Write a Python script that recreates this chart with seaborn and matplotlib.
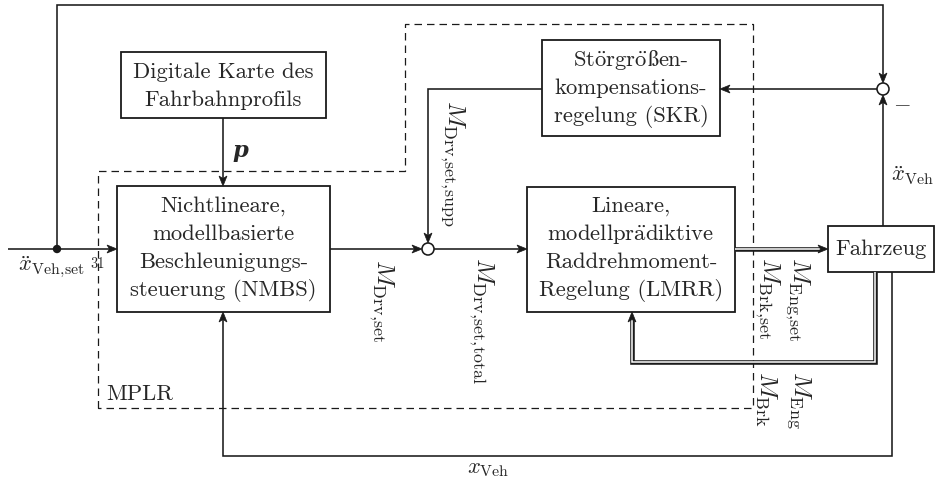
import matplotlib
matplotlib.use("Agg")
import matplotlib.pyplot as plt
from matplotlib.patches import Rectangle, Circle, Polygon
import seaborn as sns
import numpy as np

# ---------------- content ----------------
block_texts = [
    ["Digitale Karte des", "Fahrbahnprofils"],
    ["Nichtlineare,", "modellbasierte", "Beschleunigungs-", "steuerung (NMBS)"],
    [r"St$\ddot{\mathrm{o}}$rgr$\ddot{\mathrm{o}}$ßen-", "kompensations-", "regelung (SKR)"],
    ["Lineare,", r"modellpr$\ddot{\mathrm{a}}$diktive", "Raddrehmoment-", "Regelung (LMRR)"],
    ["Fahrzeug"],
]
torque_labels = [
    r"$M_{\mathrm{Drv,\!set}}$",
    r"$M_{\mathrm{Drv,\!set,\!supp}}$",
    r"$M_{\mathrm{Drv,\!set,\!total}}$",
    r"$M_{\mathrm{Eng,\!set}}$",
    r"$M_{\mathrm{Brk,\!set}}$",
    r"$M_{\mathrm{Eng}}$",
    r"$M_{\mathrm{Brk}}$",
]
signal_labels = [
    r"$\ddot{x}_{\mathrm{Veh,\!set}}$",
    r"$\ddot{x}_{\mathrm{Veh}}$",
    r"$x_{\mathrm{Veh}}$",
]
group_label = "MPLR"
misc_labels = ["31", "p", r"$-$"]

# ---------------- style ----------------
sns.set_theme(style="white")
plt.rcParams["font.family"] = ["cmr10", "STIXGeneral", "DejaVu Serif"]
plt.rcParams["mathtext.fontset"] = "cm"
plt.rcParams["axes.formatter.use_mathtext"] = True

W, H = 936, 486
fig = plt.figure(figsize=(W / 100, H / 100), dpi=100)
ax = fig.add_axes([0, 0, 1, 1])
ax.set_xlim(0, W)
ax.set_ylim(H, 0)
ax.axis("off")
renderer = fig.canvas.get_renderer()

LW = 1.15
BODY = 16.3
MSIZE = 18.5


def head(tip, direction, length=10, width=8):
    d = np.array(direction, float)
    d /= np.linalg.norm(d)
    n = np.array([-d[1], d[0]])
    tip = np.array(tip, float)
    base = tip - d * length
    pts = [tip, base + n * width / 2, tip - d * length * 0.75, base - n * width / 2]
    ax.add_patch(Polygon(pts, closed=True, fc="k", ec="k", lw=0.5, zorder=5))


def line(pts, arrow=True, double=False):
    pts = np.array(pts, float)
    if arrow:
        d = pts[-1] - pts[-2]
        d = d / np.linalg.norm(d)
        draw = pts.copy()
        draw[-1] = pts[-1] - d * 7
    else:
        draw = pts
    if double:
        ax.plot(draw[:, 0], draw[:, 1], color="k", lw=3.3, solid_joinstyle="miter",
                solid_capstyle="butt", zorder=3)
        ax.plot(draw[:, 0], draw[:, 1], color="white", lw=1.1, solid_joinstyle="miter",
                solid_capstyle="butt", zorder=4)
    else:
        ax.plot(draw[:, 0], draw[:, 1], color="k", lw=LW, solid_joinstyle="miter",
                solid_capstyle="butt", zorder=3)
    if arrow:
        head(pts[-1], pts[-1] - pts[-2])


def text_line(cx, base, s):
    # split off "ß" (missing in cmr10) and set it in STIXGeneral
    if "ß" not in s:
        ax.text(cx, base, s, ha="center", va="baseline", fontsize=BODY, zorder=6)
        return
    parts = []
    for i, chunk in enumerate(s.split("ß")):
        if i > 0:
            parts.append(("ß", "STIXGeneral"))
        if chunk:
            parts.append((chunk, None))
    arts, widths = [], []
    for t, fam in parts:
        kw = dict(fontsize=BODY, ha="left", va="baseline", zorder=6)
        if fam:
            kw["family"] = fam
        a = ax.text(0, base, t, **kw)
        widths.append(a.get_window_extent(renderer).width)
        arts.append(a)
    x = cx - sum(widths) / 2
    for a, w in zip(arts, widths):
        a.set_x(x)
        x += w


def block(x0, y0, x1, y1, lines, baselines):
    ax.add_patch(Rectangle((x0, y0), x1 - x0, y1 - y0, fill=True, fc="white",
                           ec="k", lw=1.3, zorder=2))
    cx = (x0 + x1) / 2
    for t, b in zip(lines, baselines):
        text_line(cx, b, t)


# MPLR dashed region
mplr = np.array([(98, 408), (98, 171), (405, 171), (405, 24), (753, 24), (753, 408), (98, 408)])
ax.plot(mplr[:, 0], mplr[:, 1], color="k", lw=0.9, ls=(0, (6, 4)), zorder=1)
ax.text(106, 400, group_label, ha="left", va="baseline", fontsize=BODY)

# blocks
block(121, 52, 326, 118, block_texts[0], [78, 106])
block(117, 186, 330, 312, block_texts[1], [212, 240, 268, 296])
block(542, 40, 720, 136, block_texts[2], [66, 94, 122])
block(527, 187, 735, 312, block_texts[3], [212, 240, 268, 296])
block(828, 226, 934, 272, block_texts[4], [255])

# summing points
for c in [(428, 249), (883, 89)]:
    ax.add_patch(Circle(c, 6, fc="white", ec="k", lw=LW, zorder=4))
ax.add_patch(Circle((57, 249), 3.5, fc="k", ec="k", zorder=5))

# signal lines
line([(8, 249), (117, 249)])
line([(57, 249), (57, 5), (883, 5), (883, 83)])
line([(883, 226), (883, 95)])
line([(877, 89), (720, 89)])
line([(542, 89), (428, 89), (428, 243)])
line([(330, 249), (422, 249)])
line([(434, 249), (527, 249)])
line([(223, 118), (223, 186)])
line([(892, 272), (892, 456), (223, 456), (223, 312)])
line([(735, 249), (828, 249)], double=True)
line([(875, 272), (875, 362), (632, 362), (632, 312)], double=True)

# rotated torque labels (x centre, top y)
tpos = [(381, 259), (452, 100), (481, 257), (797, 257), (767, 257), (799, 371), (766, 371)]
for t, (x, y) in zip(torque_labels, tpos):
    ax.text(x, y, t, rotation=-90, ha="center", va="top", fontsize=MSIZE, zorder=6)

# other labels
ax.text(52, 271, signal_labels[0], ha="center", va="baseline", fontsize=BODY)
ax.text(891, 181, signal_labels[1], ha="left", va="baseline", fontsize=BODY)
ax.text(488, 473, signal_labels[2], ha="center", va="baseline", fontsize=BODY)
ax.text(98, 268, misc_labels[0], ha="center", va="baseline", fontsize=10.5)
ax.text(240, 157, misc_labels[1], ha="center", va="baseline", fontsize=BODY,
        family="DejaVu Serif", weight="bold", style="italic")
ax.text(893, 109, misc_labels[2], ha="left", va="baseline", fontsize=BODY)

fig.savefig("out.png", dpi=100, facecolor="white")
